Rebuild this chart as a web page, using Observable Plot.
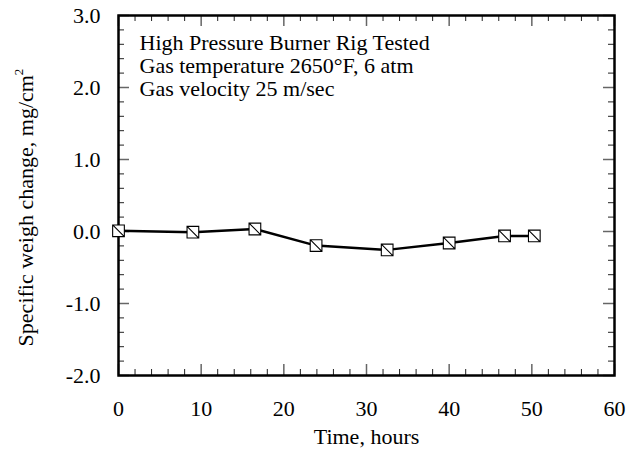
<!DOCTYPE html>
<html>
<head>
<meta charset="utf-8">
<script src="https://cdn.jsdelivr.net/npm/d3@7"></script>
<script src="https://cdn.jsdelivr.net/npm/@observablehq/plot@0.6"></script>
<style>
  html, body { margin: 0; padding: 0; background: #fff; }
</style>
</head>
<body>
<div id="chart"></div>
<script>
// ---- data ----
const timeHours = [0, 9, 16.5, 23.9, 32.5, 40, 46.7, 50.3];
const weightChange = [0.01, -0.01, 0.035, -0.195, -0.256, -0.16, -0.062, -0.062];

const xMajorTicks = [0, 10, 20, 30, 40, 50, 60];
const xMinorTicks = d3.range(0, 60.001, 2).filter(v => v % 10 !== 0);
const yMajorTicks = [-2, -1, 0, 1, 2, 3];
const yMinorTicks = d3.range(-20, 30.001, 2).map(v => v / 10).filter(v => Math.abs(v - Math.round(v)) > 1e-9);

const annotationLines = [
  "High Pressure Burner Rig Tested",
  "Gas temperature 2650°F, 6 atm",
  "Gas velocity 25 m/sec"
];
const xLabel = "Time, hours";
const yLabelMain = "Specific weigh change, mg/cm";
const yLabelSup = "2";

const data = timeHours.map((t, i) => ({t, w: weightChange[i]}));

// ---- layout ----
const W = 629, H = 450;
const mL = 118, mR = 15, mT = 15, mB = 75;
const plotW = W - mL - mR, plotH = H - mT - mB;
const FONT = "'Liberation Serif', 'Times New Roman', Times, serif";

const majorLen = 11, minorLen = 6;
const majorStroke = "#666", minorStroke = "#222";

const squareDiag = {
  draw(context, size) {
    const w = Math.sqrt(size) / 2;
    context.moveTo(-w, -w);
    context.lineTo(w, -w);
    context.lineTo(w, w);
    context.lineTo(-w, w);
    context.closePath();
    context.moveTo(-w, -w);
    context.lineTo(w, w);
  }
};

const chart = Plot.plot({
  width: W,
  height: H,
  marginLeft: mL,
  marginRight: mR,
  marginTop: mT,
  marginBottom: mB,
  style: {fontFamily: FONT, fontSize: "22px", background: "#fff", color: "#000"},
  x: {domain: [0, 60]},
  y: {domain: [-2, 3]},
  marks: [
    // tick marks, inward on all four sides
    Plot.ruleX(xMinorTicks, {x: d => d, insetTop: plotH - minorLen, stroke: minorStroke, strokeWidth: 1}),
    Plot.ruleX(xMinorTicks, {x: d => d, insetBottom: plotH - minorLen, stroke: minorStroke, strokeWidth: 1}),
    Plot.ruleX(xMajorTicks, {x: d => d, insetTop: plotH - majorLen, stroke: majorStroke, strokeWidth: 1.5}),
    Plot.ruleX(xMajorTicks, {x: d => d, insetBottom: plotH - majorLen, stroke: majorStroke, strokeWidth: 1.5}),
    Plot.ruleY(yMinorTicks, {y: d => d, insetRight: plotW - minorLen, stroke: minorStroke, strokeWidth: 1}),
    Plot.ruleY(yMinorTicks, {y: d => d, insetLeft: plotW - minorLen, stroke: minorStroke, strokeWidth: 1}),
    Plot.ruleY(yMajorTicks, {y: d => d, insetRight: plotW - majorLen, stroke: majorStroke, strokeWidth: 1.5}),
    Plot.ruleY(yMajorTicks, {y: d => d, insetLeft: plotW - majorLen, stroke: majorStroke, strokeWidth: 1.5}),
    Plot.frame({stroke: "#000", strokeWidth: 2.5}),
    // tick labels
    Plot.axisX({ticks: xMajorTicks, tickSize: 0, tickPadding: 25, label: null, tickFormat: d => String(d), fontSize: 22}),
    Plot.axisY({ticks: yMajorTicks, tickSize: 0, tickPadding: 18, label: null, tickFormat: d => d.toFixed(1), fontSize: 22}),
    // axis titles
    Plot.text([xLabel], {frameAnchor: "bottom", lineAnchor: "top", dy: 53, fontSize: 22, text: d => d}),
    Plot.text([yLabelMain], {frameAnchor: "left", textAnchor: "middle", lineAnchor: "middle", rotate: -90, dx: -93, dy: 12, fontSize: 22, text: d => d, className: "ylabel"}),
    // annotation
    Plot.text([annotationLines.join("\n")], {frameAnchor: "top-left", textAnchor: "start", lineAnchor: "top", dx: 21, dy: 18, lineHeight: 1.04, fontSize: 22, text: d => d}),
    // data
    Plot.line(data, {x: "t", y: "w", stroke: "#000", strokeWidth: 2.4}),
    Plot.dot(data, {x: "t", y: "w", symbol: squareDiag, r: 6.6, fill: "#fff", stroke: "#000", strokeWidth: 1.1})
  ]
});

// add the superscript "2" to the y-axis title as a real tspan
const yText = chart.querySelector(".ylabel text");
if (yText) {
  const sup = document.createElementNS("http://www.w3.org/2000/svg", "tspan");
  sup.setAttribute("font-size", "13");
  sup.setAttribute("dy", "-0.75em");
  sup.textContent = yLabelSup;
  yText.appendChild(sup);
}

document.getElementById("chart").appendChild(chart);
</script>
</body>
</html>
